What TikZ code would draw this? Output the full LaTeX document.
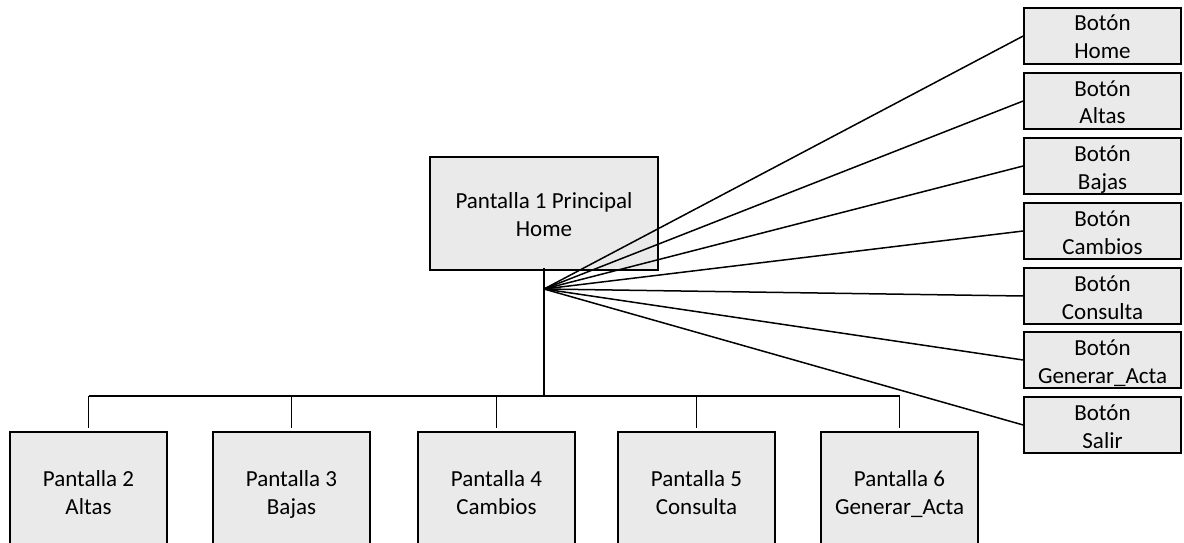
\documentclass[tikz,border=0pt]{standalone}
\usepackage{fontspec}
\setmainfont{Carlito}
\definecolor{boxfill}{RGB}{234,234,234}
% two centred lines with equal spacing, independent of descenders
\newcommand{\linestrut}{\rule[-5pt]{0pt}{28pt}}
\newcommand{\twolines}[2]{\linestrut#1\\\linestrut#2}
\begin{document}
\begin{tikzpicture}[x=1pt,y=-1pt,
  box/.style={draw=black,line width=1.6pt,fill=boxfill,align=center,inner sep=0pt,
    font=\fontsize{23}{28}\selectfont},
  screen/.style={box,minimum width=157pt,minimum height=118pt},
  button/.style={box,minimum width=157pt,minimum height=56pt},
  wire/.style={line width=1.5pt}]
\clip (0,0) rectangle (1184,543);
\useasboundingbox (0,0) rectangle (1184,543);

% main screen
\node[box,minimum width=228pt,minimum height=113pt] (main) at (544,213.5)
  {\twolines{Pantalla 1 Principal}{Home}};

% secondary screens
\node[screen] (p2) at (88.5,491) {\twolines{Pantalla 2}{Altas}};
\node[screen] (p3) at (291.5,491) {\twolines{Pantalla 3}{Bajas}};
\node[screen] (p4) at (496.5,491) {\twolines{Pantalla 4}{Cambios}};
\node[screen] (p5) at (696.5,491) {\twolines{Pantalla 5}{Consulta}};
\node[screen] (p6) at (899.5,491) {\twolines{Pantalla 6}{Generar\_Acta}};

% buttons
\node[button] (b1) at (1102.5,36) {\twolines{Botón}{Home}};
\node[button] (b2) at (1102.5,101) {\twolines{Botón}{Altas}};
\node[button] (b3) at (1102.5,166) {\twolines{Botón}{Bajas}};
\node[button] (b4) at (1102.5,231) {\twolines{Botón}{Cambios}};
\node[button] (b5) at (1102.5,296) {\twolines{Botón}{Consulta}};
\node[button] (b6) at (1102.5,360) {\twolines{Botón}{Generar\_Acta}};
\node[button] (b7) at (1102.5,425) {\twolines{Botón}{Salir}};

% connectors
\coordinate (fan) at (544,289);
\coordinate (bus) at (544,396);
\draw[wire] ([yshift=3pt]main.south) -- (bus);
\draw[wire] (p2.north |- bus) -- (p6.north |- bus);
\foreach \i in {2,...,6}
  \draw[wire] (p\i.north |- bus) -- ([yshift=3pt]p\i.north);
\foreach \i in {1,...,7}
  \draw[wire] (fan) -- (b\i.west);
\end{tikzpicture}
\end{document}
